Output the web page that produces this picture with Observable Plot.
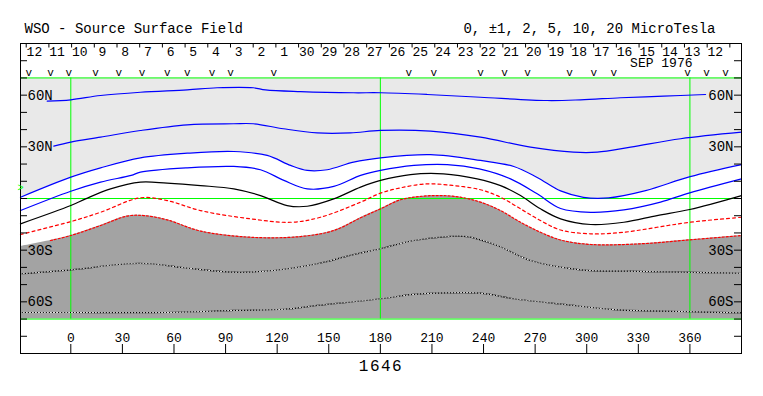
<!DOCTYPE html>
<html><head><meta charset="utf-8">
<script src="https://cdn.jsdelivr.net/npm/d3@7"></script>
<script src="https://cdn.jsdelivr.net/npm/@observablehq/plot@0.6"></script>
<style>body{margin:0;background:#fff} svg{display:block}</style>
</head><body><div id="chart"></div>
<script>
// ---- data ----
const LAT_LIMIT = 70;
const lonDomain = [-29.25, 390];
const lonTicks = [0, 30, 60, 90, 120, 150, 180, 210, 240, 270, 300, 330, 360];
const latTicks = [-80, -70, -60, -50, -40, -30, -20, -10, 0, 10, 20, 30, 40, 50, 60, 70, 80];
const latLabels = [60, 30, -30, -60];
const dayLabels = [12, 11, 10, 9, 8, 7, 6, 5, 4, 3, 2, 1, 30, 29, 28, 27, 26, 25, 24, 23, 22, 21, 20, 19, 18, 17, 16, 15, 14, 13, 12];
const daySep = [42, 41, 40, 39, 38, 37, 36, 35, 34, 33, 32, 31, 30, 29, 28, 27, 26, 25, 24, 23, 22, 21, 20, 19, 18, 17, 16, 15, 14, 13, 12]; // day counted from 1 Sep
const crStart = 13.76;        // CR 1646 start, Sep 13.76 1976
const crPeriod = 27.2753;
const obsLon = [-24.4, -11.8, -1.2, 14.4, 27.9, 41.5, 56.1, 67.7, 82.2, 92.9, 118.0, 196.5, 211.1, 238.2, 252.2, 265.6, 290.0, 304.1, 315.8, 358.6, 369.7, 380.7];
const b0 = 6.5;

const blue1 = [[-13.7,56.5],[0,57.3],[17.3,59.8],[40.5,61.7],[67.7,63.1],[85.1,64.3],[106.2,64.3],[113.2,63.1],[133.6,62.1],[164.4,61.4],[180.1,61.4],[207.2,60.4],[238.2,58.8],[277,56.9],[296.4,57.3],[319.7,58.5],[344.7,59.4],[369.1,60.4]];
const blue2 = [[-9.9,30.4],[0,32.7],[17.3,35.6],[40.5,39.5],[67.7,42.8],[94.6,43.4],[106.2,43.4],[123.7,40.5],[143.3,38.1],[162.6,38.1],[180.1,39.5],[209.2,39.1],[238.2,35.6],[267.3,29.8],[292.3,26.9],[306.1,26.9],[325.5,29.8],[354.6,34.7],[390,38.5]];
const blue3 = [[-29.25,0.75],[0,12.4],[17.3,17.8],[40.5,23.6],[67.7,26.3],[94.8,27.3],[114.2,25.0],[127.8,19.2],[137.5,16.3],[149.1,16.7],[164.4,21.1],[180.1,23.6],[209.2,25.5],[238.2,22.1],[257.6,18.6],[271.2,12.2],[284.8,4.4],[298.1,0.7],[312.7,0.4],[334.2,4.6],[360.1,12.7],[390,19.7]];
const blue4 = [[-29.25,-7.0],[0,4.2],[17.3,9.5],[35.1,13.4],[40.5,15.3],[67.7,17.8],[94.8,18.6],[110.3,16.7],[123.9,10.5],[137.5,5.6],[152.9,7.0],[168.5,13.4],[180.1,16.3],[199.5,19.2],[218.9,19.7],[237.5,17.2],[255.7,11.4],[271.2,2.7],[284.8,-5.8],[302.3,-8.0],[321.6,-6.6],[342.9,-2.1],[359.9,3.3],[390,11.4]];
const neutral = [[-29.25,-14.7],[0,-4.1],[8.6,-0.2],[23.1,5.6],[40.5,9.5],[56,8.9],[75.4,7.5],[94.8,5.6],[110.3,1.7],[125.8,-4.1],[137.5,-4.5],[152.9,-0.2],[168.5,6.6],[180.1,10.5],[197.5,13.9],[216.7,14.3],[236.3,11.4],[249.9,7.5],[261.5,1.7],[273.1,-6.0],[284.8,-11.8],[302.3,-15.1],[321.6,-13.8],[340.9,-9.9],[359.9,-6.4],[390,1.7]];
const red1 = [[-29.25,-20.9],[0,-13.4],[17.3,-8.0],[40.5,0.4],[56,-1.2],[75.4,-7.0],[104.5,-11.8],[127.8,-13.8],[145.2,-10.9],[168.5,-2.1],[180.1,3.1],[191.7,6.2],[207.2,8.5],[222.6,7.5],[238.2,5.1],[249.9,0.75],[261.5,-6.0],[273.1,-12.8],[284.8,-18.3],[302.3,-20.5],[321.6,-19.6],[340.9,-16.7],[359.9,-13.8],[390,-10.9]];
const red2 = [[-29.25,-27.9],[-11.8,-24.4],[0,-21.5],[17.3,-15.7],[32.8,-10.2],[42.5,-9.9],[56,-12.4],[75.4,-18.9],[104.5,-22.5],[133.6,-22.1],[152.9,-18.6],[168.5,-11.2],[180.1,-6.0],[191.7,-0.75],[203.4,1.2],[215,1.7],[226.6,0.75],[238.2,-2.1],[249.9,-7.0],[261.5,-13.8],[273.1,-19.6],[284.8,-24.1],[302.3,-26.7],[331.4,-26.3],[359.9,-24.0],[390,-21.5]];
const neg5 = [[-29.25,-43.7],[0,-41.4],[32.8,-37.9],[46.3,-37.9],[65.7,-40.2],[94.8,-42.8],[118,-41.8],[143.3,-37.9],[162.6,-33.0],[180.1,-29.2],[199.5,-24.4],[218.9,-22.1],[230.5,-22.1],[247.9,-27.3],[267.3,-36.0],[296.4,-41.4],[325.5,-42.2],[354.6,-42.8],[390,-43.4]];
const neg10 = [[-29.25,-66.2],[0,-66.2],[56,-66.2],[94.8,-65.0],[123.9,-64.3],[143.3,-62.1],[180.1,-58.2],[199.5,-55.7],[218.9,-54.8],[238.2,-55.0],[257.6,-58.2],[286.7,-61.5],[315.8,-64.5],[354.6,-65.6],[390,-66.4]];

// ---- derived ----
const degPerDay = 360 / crPeriod;
const lonAt = t => 360 - (t - crStart) * degPerDay;
const dayTicks = d3.range(d3.min(daySep), d3.max(daySep) + 2).map(lonAt);
const days = dayLabels.map((label, i) => ({label, lon: lonAt(daySep[i] + 0.64)}));
const fmtLat = d => `${Math.abs(d)}${d > 0 ? "N" : "S"}`;

const W = 763, H = 396, ML = 20, MR = 22, MT = 43, MB = 43;
const FW = W - ML - MR, FH = H - MT - MB;

const X = d => d[0], Y = d => d[1];
const curve = "catmull-rom";
const LW = 1.2;
const mid = {lineAnchor: "middle"};

const chart = Plot.plot({
  width: W, height: H,
  marginLeft: ML, marginRight: MR, marginTop: MT, marginBottom: MB,
  x: {domain: lonDomain, axis: null},
  y: {domain: [-90, 90], axis: null},
  style: {fontFamily: "'Liberation Mono', monospace", background: "white", color: "black"},
  marks: [
    Plot.areaY(blue3, {x: X, y1: Y, y2: () => LAT_LIMIT, fill: "#e9e9e9", curve}),
    Plot.areaY(red2, {x: X, y1: () => -LAT_LIMIT, y2: Y, fill: "#a3a3a3", curve}),
    Plot.ruleY([LAT_LIMIT, 0, -LAT_LIMIT], {stroke: "#00ff00"}),
    Plot.ruleX([0, 180, 360], {y1: -LAT_LIMIT, y2: LAT_LIMIT, stroke: "#00ff00"}),
    Plot.line(blue1, {x: X, y: Y, stroke: "#0000ff", strokeWidth: LW, curve}),
    Plot.line(blue2, {x: X, y: Y, stroke: "#0000ff", strokeWidth: LW, curve}),
    Plot.line(blue3, {x: X, y: Y, stroke: "#0000ff", strokeWidth: LW, curve}),
    Plot.line(blue4, {x: X, y: Y, stroke: "#0000ff", strokeWidth: LW, curve}),
    Plot.line(neutral, {x: X, y: Y, stroke: "black", strokeWidth: LW, curve}),
    Plot.line(red1, {x: X, y: Y, stroke: "#ff0000", strokeWidth: LW, strokeDasharray: "3,3", curve}),
    Plot.line(red2.filter(d => d[0] >= -12), {x: X, y: Y, stroke: "#ff0000", strokeWidth: LW, strokeDasharray: "2,2", curve}),
    Plot.line(neg5, {x: X, y: Y, stroke: "black", strokeWidth: LW, curve}),
    Plot.line(neg5, {x: X, y: Y, stroke: "white", strokeWidth: 1, strokeDasharray: "1,2", curve}),
    Plot.line(neg10, {x: X, y: Y, stroke: "black", strokeWidth: LW, curve}),
    Plot.line(neg10, {x: X, y: Y, stroke: "white", strokeWidth: 1, strokeDasharray: "1,2", curve}),
    Plot.frame({stroke: "black"}),
    // inward tick marks
    Plot.tickY(latTicks, {y: d => d, insetRight: FW - 7, stroke: "black"}),
    Plot.tickY(latTicks, {y: d => d, insetLeft: FW - 7, stroke: "black"}),
    Plot.tickX(lonTicks, {x: d => d, insetTop: FH - 9, stroke: "black"}),
    Plot.tickX(dayTicks, {x: d => d, insetBottom: FH - 4.5, stroke: "black"}),
    // texts
    Plot.text(latLabels, {y: d => d, text: fmtLat, frameAnchor: "left", textAnchor: "start", dx: 7, fontSize: 14, ...mid}),
    Plot.text(latLabels, {y: d => d, text: fmtLat, frameAnchor: "right", textAnchor: "end", dx: -8, fontSize: 14, ...mid}),
    Plot.text(lonTicks, {x: d => d, text: d => String(d), frameAnchor: "bottom", dy: -16, fontSize: 13, ...mid}),
    Plot.text(days, {x: "lon", text: d => String(d.label), frameAnchor: "top", dy: 8, fontSize: 13, ...mid}),
    Plot.text(obsLon, {x: d => d, text: () => "v", frameAnchor: "top", dy: 29, fontSize: 11, ...mid}),
    Plot.text(["SEP 1976"], {text: d => d, frameAnchor: "top-right", textAnchor: "end", dx: -49, dy: 19, fontSize: 13, ...mid}),
    Plot.text(["WSO - Source Surface Field"], {text: d => d, frameAnchor: "top-left", textAnchor: "start", dx: 4, dy: -15, fontSize: 14, ...mid}),
    Plot.text(["0, \u00b11, 2, 5, 10, 20 MicroTesla"], {text: d => d, frameAnchor: "top-right", textAnchor: "end", dx: -26, dy: -15, fontSize: 14, ...mid}),
    Plot.text(["1646"], {text: d => d, frameAnchor: "bottom", dy: 12, fontSize: 16, ...mid}),
    Plot.text([b0], {y: d => d, text: () => ">", frameAnchor: "left", dx: -3, fill: "#00ff00", fontSize: 10, ...mid})
  ]
});
d3.select(chart).selectAll("text").filter(function () { return this.textContent === "1646"; }).style("letter-spacing", "1.5px");
document.getElementById("chart").appendChild(chart);
</script>
</body></html>
